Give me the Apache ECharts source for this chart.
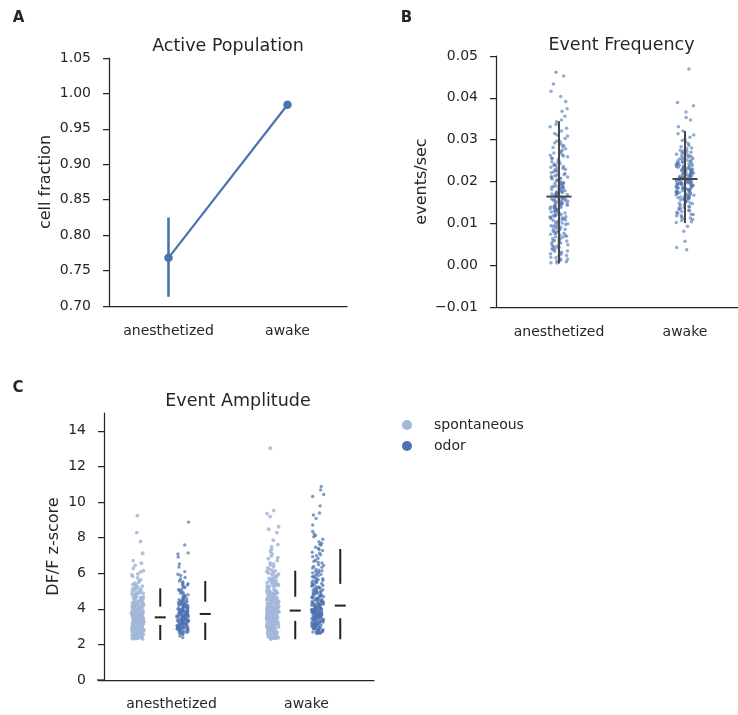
<!DOCTYPE html>
<html>
<head>
<meta charset="utf-8">
<script src="https://cdn.jsdelivr.net/npm/echarts@6/dist/echarts.min.js"></script>
<style>
  html, body { margin: 0; padding: 0; background: #ffffff; }
  #chart { width: 738px; height: 715px; }
</style>
</head>
<body>
<div id="chart"></div>
<script>
// ---- data -------------------------------------------------------------
const groups = ['anesthetized', 'awake'];
const hues = ['spontaneous', 'odor'];

// A: fraction of active cells (mean with interval)
const popMean = [0.768, 0.984];
const popLow  = [0.713, 0.981];
const popHigh = [0.825, 0.987];
const popTicks = [0.70, 0.75, 0.80, 0.85, 0.90, 0.95, 1.00, 1.05];

// B: per-cell event frequency (events/sec)
const freqAnesth = [
  0.0163,0.0211,0.0087,0.0142,0.0275,0.0034,0.0198,0.0121,0.0059,0.0236,0.0176,0.0012,0.0309,0.0148,0.0093,0.0187,0.0224,0.0067,0.0131,0.0256,
  0.0019,0.0172,0.0105,0.0289,0.0158,0.0041,0.0203,0.0117,0.0078,0.0241,0.0139,0.0184,0.0026,0.0327,0.0166,0.0098,0.0215,0.0052,0.0127,0.0269,
  0.0153,0.0008,0.0192,0.0111,0.0071,0.0231,0.0145,0.0178,0.0046,0.0297,0.0134,0.0207,0.0084,0.0161,0.0249,0.0023,0.0119,0.0189,0.0062,0.0218,
  0.0102,0.0343,0.0156,0.0037,0.0195,0.0128,0.0089,0.0263,0.0171,0.0014,0.0138,0.0228,0.0074,0.0182,0.0113,0.0283,0.0049,0.0149,0.0201,0.0096,
  0.0245,0.0167,0.0029,0.0124,0.0315,0.0057,0.0186,0.0143,0.0212,0.0081,0.0159,0.0005,0.0272,0.0108,0.0194,0.0065,0.0234,0.0136,0.0177,0.0043,
  0.0292,0.0151,0.0115,0.0209,0.0091,0.0169,0.0255,0.0018,0.0132,0.0221,0.0069,0.0181,0.0336,0.0104,0.0147,0.0054,0.0239,0.0164,0.0083,0.0197,
  0.0125,0.0031,0.0278,0.0157,0.0099,0.0216,0.0141,0.0061,0.0174,0.0303,0.0118,0.0010,0.0188,0.0226,0.0076,0.0152,0.0133,0.0264,0.0047,0.0206,
  0.0109,0.0173,0.0086,0.0247,0.0144,0.0022,0.0191,0.0321,0.0129,0.0064,0.0179,0.0232,0.0101,0.0155,0.0039,0.0286,0.0137,0.0213,0.0094,0.0168,
  0.0053,0.0259,0.0122,0.0199,0.0015,0.0146,0.0238,0.0079,0.0183,0.0112,0.0268,0.0161,0.0027,0.0204,0.0331,0.0135,0.0072,0.0219,0.0154,0.0097,
  0.0243,0.0044,0.0175,0.0116,0.0281,0.0189,0.0058,0.0140,0.0229,0.0006,0.0127,0.0196,0.0085,0.0252,0.0163,0.0033,0.0107,0.0311,0.0149,0.0068,
  0.0185,0.0223,0.0120,0.0092,0.0170,0.0261,0.0040,0.0138,0.0208,0.0295,0.0157,0.0075,0.0114,0.0347,
  0.0356,0.0368,0.0374,0.0391,0.0403,0.0416,0.0433,0.0452,0.0461
];
const freqAwake = [
  0.0206,0.0183,0.0231,0.0154,0.0262,0.0197,0.0219,0.0128,0.0243,0.0176,0.0291,0.0212,0.0165,0.0224,0.0139,0.0254,0.0201,0.0187,0.0275,0.0113,
  0.0228,0.0193,0.0161,0.0238,0.0208,0.0147,0.0269,0.0181,0.0215,0.0122,0.0249,0.0196,0.0172,0.0306,0.0221,0.0158,0.0233,0.0189,0.0204,0.0135,
  0.0259,0.0178,0.0217,0.0104,0.0241,0.0199,0.0166,0.0283,0.0211,0.0151,0.0226,0.0185,0.0246,0.0118,0.0203,0.0174,0.0267,0.0192,0.0143,0.0235,
  0.0209,0.0162,0.0298,0.0186,0.0222,0.0131,0.0253,0.0195,0.0169,0.0229,0.0107,0.0214,0.0179,0.0272,0.0198,0.0156,0.0244,0.0182,0.0218,0.0124,
  0.0261,0.0205,0.0168,0.0236,0.0191,0.0149,0.0314,0.0213,0.0175,0.0227,0.0137,0.0257,0.0202,0.0184,0.0239,0.0115,0.0224,0.0171,0.0278,0.0194,
  0.0159,0.0247,0.0207,0.0188,0.0232,0.0126,0.0264,0.0197,0.0163,0.0219,0.0141,0.0286,0.0210,0.0177,0.0251,0.0109,0.0234,0.0190,0.0167,0.0225,
  0.0153,0.0270,0.0200,0.0182,0.0242,0.0133,0.0321,0.0216,0.0173,0.0230,0.0119,0.0255,0.0206,0.0160,0.0237,0.0145,0.0280,0.0193,0.0220,0.0102,
  0.0248,0.0185,0.0212,0.0170,0.0295,0.0228,0.0157,0.0202,0.0265,0.0138,0.0240,0.0196,0.0180,0.0223,0.0121,0.0258,0.0209,0.0164,0.0311,0.0187,
  0.0214,0.0176,0.0250,0.0199,0.0148,0.0232,0.0189,0.0273,0.0205,0.0130,0.0226,0.0183,0.0244,0.0161,0.0302,0.0208,0.0172,0.0237,0.0195,0.0112,
  0.0093,0.0081,0.0057,0.0042,0.0037,0.0331,0.0347,0.0353,0.0366,0.0381,0.0389,0.0469
];
const freqMean = [0.0164, 0.0206];
const freqLow  = [0.0004, 0.0101];
const freqHigh = [0.0344, 0.0321];
const freqTicks = [-0.01, 0.00, 0.01, 0.02, 0.03, 0.04, 0.05];

// C: event amplitude (DF/F z-score), spontaneous vs odor-evoked
const ampAnSpont = [
  2.34,2.41,2.52,2.37,2.58,2.45,2.31,2.49,2.56,2.39,2.43,2.54,2.33,2.47,2.59,2.36,2.51,2.42,2.38,2.55,2.44,2.32,2.57,2.48,2.35,2.53,2.40,2.46,2.50,2.58,
  2.63,2.78,2.91,3.04,2.69,2.85,2.97,2.72,3.08,2.66,2.81,2.94,2.75,3.01,2.61,2.88,2.99,2.70,2.83,3.06,2.67,2.92,2.77,3.03,2.64,2.86,2.95,2.73,3.09,2.80,
  2.68,2.90,3.02,2.76,2.62,2.87,2.98,2.71,3.05,2.84,2.65,2.93,2.79,3.07,2.74,2.89,2.96,2.82,3.00,2.60,
  3.12,3.27,3.41,3.18,3.35,3.48,3.22,3.14,3.39,3.31,3.45,3.16,3.25,3.43,3.20,3.37,3.11,3.29,3.47,3.23,3.34,3.15,3.42,3.28,3.19,3.46,3.33,3.13,3.38,3.24,
  3.49,3.17,3.32,3.40,3.21,3.26,3.44,3.10,3.36,3.30,3.48,3.18,3.27,3.41,3.15,3.35,3.22,3.44,3.12,3.29,3.39,3.25,3.46,3.19,3.33,3.14,3.42,3.28,3.21,3.37,
  3.16,3.31,3.47,3.24,3.40,3.13,3.34,3.45,3.20,3.26,
  3.52,3.67,3.84,3.58,3.96,3.71,3.55,3.89,4.03,3.63,3.78,3.92,3.54,3.81,4.07,3.69,3.86,3.60,3.99,3.74,3.57,3.93,3.65,4.01,3.80,3.53,3.88,3.72,3.61,4.05,
  3.76,3.95,3.59,3.83,3.68,4.09,3.56,3.90,3.73,3.64,3.98,3.79,3.51,3.87,3.70,4.02,3.62,3.85,3.75,3.94,3.57,4.08,3.66,3.82,3.91,3.54,3.77,4.04,3.63,3.97,
  3.71,3.86,3.59,4.00,3.68,3.83,3.55,3.92,3.74,4.06,3.61,3.89,
  4.13,4.37,4.62,4.21,4.85,4.49,4.16,4.71,4.28,4.94,4.41,4.19,4.57,4.33,4.78,4.11,4.66,4.25,4.52,4.89,4.31,4.14,4.45,4.73,4.22,4.59,4.97,4.36,4.18,4.64,
  4.27,4.82,4.43,4.12,4.55,4.39,4.91,4.24,4.68,4.34,4.17,4.76,4.48,4.29,4.61,4.87,4.20,4.53,
  5.04,5.31,5.12,5.58,5.21,5.83,5.07,5.44,5.27,5.96,5.15,5.62,5.36,5.09,5.74,5.24,5.49,5.02,5.91,5.38,
  6.08,6.27,6.44,6.71,6.15,6.56,7.12,7.78,8.28,9.24
];
const ampAnOdor = [
  2.38,2.71,2.56,2.79,2.64,2.47,2.75,2.68,2.59,2.77,2.73,2.62,2.78,2.69,
  2.83,3.11,2.94,3.05,2.87,3.17,2.99,2.91,3.08,2.85,3.14,3.02,2.96,3.19,2.89,3.07,2.81,3.12,2.97,3.04,2.92,3.16,2.86,3.09,3.00,2.93,3.13,2.88,
  3.24,3.51,3.37,3.66,3.29,3.45,3.58,3.33,3.62,3.21,3.48,3.39,3.69,3.27,3.55,3.42,3.31,3.64,3.36,3.53,3.25,3.47,3.60,3.34,3.68,3.40,3.22,3.57,3.44,3.30,
  3.63,3.38,3.50,3.26,3.59,3.43,3.67,3.32,3.54,3.46,3.28,3.61,3.35,
  3.72,4.05,3.88,4.21,3.79,4.34,3.96,4.12,3.74,4.27,3.91,4.02,3.83,4.38,3.76,4.16,3.99,4.08,3.85,4.24,3.71,3.94,4.31,3.81,4.14,3.89,4.03,4.19,3.77,4.36,
  3.97,4.10,3.86,4.25,3.73,4.06,3.92,4.29,3.80,4.17,3.95,4.39,
  4.46,4.83,4.57,4.91,4.42,4.68,4.75,4.51,4.97,4.63,4.44,4.88,4.55,4.71,4.49,4.79,4.60,
  5.07,5.38,5.19,5.52,5.11,5.45,5.28,5.03,5.34,5.56,5.23,5.41,
  5.68,5.87,6.09,5.76,5.94,6.35,6.52,6.91,7.08,7.14,7.59,8.87
];
const ampAwSpont = [
  2.33,2.61,2.47,2.75,2.39,2.68,2.52,2.31,2.79,2.44,2.57,2.36,2.71,2.49,2.64,2.41,2.77,2.55,2.34,2.66,2.46,2.73,2.38,2.59,2.50,2.70,2.42,2.63,2.35,2.76,
  2.53,2.45,2.69,2.32,2.58,2.74,2.40,2.65,
  2.84,3.12,2.97,3.26,2.89,3.05,3.18,2.82,3.29,2.93,3.09,2.86,3.21,3.01,2.91,3.15,2.81,3.24,2.99,3.07,2.87,3.19,2.95,3.27,2.83,3.03,3.13,2.90,3.22,2.98,
  3.10,2.85,3.28,2.94,3.16,3.00,2.88,3.23,2.96,3.06,2.92,3.14,
  3.34,3.72,3.51,3.88,3.41,3.63,3.37,3.79,3.56,3.45,3.84,3.31,3.67,3.53,3.76,3.39,3.60,3.86,3.48,3.70,3.35,3.58,3.81,3.43,3.65,3.52,3.89,3.38,3.74,3.47,
  3.62,3.33,3.83,3.55,3.69,3.42,3.77,3.50,3.87,3.36,3.64,3.46,3.80,3.57,3.32,3.73,3.49,3.61,3.85,3.40,3.68,3.54,3.78,3.44,3.30,3.66,3.82,3.59,3.37,3.75,
  3.48,3.63,3.87,3.41,3.71,3.53,3.35,3.79,3.57,3.44,3.84,3.60,3.39,3.67,3.51,3.76,3.33,3.62,3.86,3.46,
  3.94,4.37,4.12,4.58,4.01,4.26,4.65,3.98,4.43,4.17,4.52,3.92,4.31,4.08,4.69,4.21,3.96,4.48,4.14,4.39,4.03,4.61,4.24,3.91,4.55,4.10,4.33,4.67,4.05,4.28,
  4.46,3.99,4.19,4.57,4.35,4.02,4.63,4.15,4.41,3.93,4.29,4.53,4.07,4.38,4.22,4.68,3.97,4.44,4.11,4.59,4.25,4.04,4.36,4.50,3.95,4.18,4.62,4.32,4.09,4.47,
  4.23,4.66,4.00,4.40,4.13,4.56,4.27,3.90,4.45,4.20,4.60,4.06,4.34,4.51,4.16,4.64,3.98,4.42,4.30,4.54,
  4.72,5.14,4.89,5.37,4.78,5.02,5.26,4.95,5.48,4.81,5.09,5.31,4.74,5.18,4.92,5.43,4.85,5.06,5.22,4.99,5.35,4.76,5.11,5.46,4.87,5.28,4.93,5.04,5.40,4.80,
  5.16,4.97,5.33,4.71,5.20,4.90,5.07,5.44,4.83,5.25,
  5.53,5.87,5.66,6.04,5.58,5.79,6.13,5.62,5.95,5.71,6.18,5.55,5.84,6.01,5.68,5.91,5.76,6.09,5.60,5.98,
  6.24,6.58,6.37,6.82,6.45,6.96,6.29,6.71,6.52,6.88,7.08,7.34,7.61,7.85,7.22,7.49,8.28,8.61,8.47,9.18,9.35,9.52,13.02
];
const ampAwOdor = [
  2.63,2.88,2.71,2.95,2.67,2.82,2.76,2.99,2.69,2.91,2.74,2.85,2.61,2.97,2.79,2.66,2.93,2.72,2.87,2.64,2.81,2.98,2.70,2.84,2.77,
  3.04,3.31,3.17,3.42,3.09,3.26,3.38,3.12,3.45,3.21,3.02,3.35,3.15,3.29,3.07,3.41,3.19,3.33,3.11,3.46,3.24,3.06,3.37,3.14,3.28,3.01,3.43,3.22,3.34,3.16,
  3.52,3.87,3.64,4.05,3.71,3.95,3.58,4.12,3.79,3.49,3.91,3.67,4.01,3.83,3.56,4.16,3.74,3.98,3.61,3.89,3.50,4.08,3.77,3.93,3.66,4.14,3.85,3.54,4.03,3.72,
  3.97,3.60,3.81,4.10,3.69,3.48,3.92,3.76,4.17,3.63,3.88,3.55,4.00,3.80,3.68,3.94,4.07,3.59,3.84,3.73,4.13,3.51,3.90,3.65,3.99,
  4.22,4.78,4.45,5.13,4.31,4.94,4.58,5.27,4.26,4.67,5.04,4.39,4.85,4.19,5.21,4.53,4.72,5.36,4.34,4.99,4.61,4.28,5.09,4.81,4.47,5.31,4.24,4.69,4.91,4.37,
  5.17,4.56,4.76,4.21,5.02,4.42,4.88,5.24,4.64,4.30,4.97,4.51,5.38,4.74,4.33,5.07,4.59,4.83,4.25,5.19,4.48,4.70,5.33,4.41,4.95,
  5.46,5.92,5.63,6.21,5.51,6.38,5.78,6.05,5.57,6.44,5.85,5.69,6.13,5.42,6.29,5.97,5.74,6.47,5.60,6.02,5.88,5.48,6.33,5.66,6.17,5.81,5.54,6.09,
  6.58,7.12,6.84,7.39,6.67,7.03,6.93,7.27,6.73,7.46,6.61,7.18,6.99,7.33,
  7.58,7.91,8.12,7.68,8.34,7.77,8.05,7.62,8.21,
  8.71,9.08,9.27,9.38,9.78,10.31,10.42,10.68,10.87
];
// summary marks per group: [spontaneous, odor]
const ampLowAn  = [2.25, 2.25], ampLowAw  = [2.29, 2.29];
const ampQ1An   = [3.09, 3.22], ampQ1Aw   = [3.32, 3.47];
const ampMedAn  = [3.52, 3.71], ampMedAw  = [3.90, 4.18];
const ampQ3An   = [4.12, 4.40], ampQ3Aw   = [4.68, 5.40];
const ampHighAn = [5.15, 5.56], ampHighAw = [6.14, 7.36];
const ampTicks = [0, 2, 4, 6, 8, 10, 12, 14];

// ---- styling ----------------------------------------------------------
const INK = '#262626';
const FONT = 'DejaVu Sans';
const BLUE = '#4c72b0';
const LIGHT = '#a3b7d9';

function fmt(v, digits) {
  if (!digits) return String(v);
  const s = Math.abs(v).toFixed(digits);
  return (v < -1e-9 ? '\u2212' : '') + s;
}

function valueAxis(grid, min, max, ticks, name, gap, digits) {
  return {
    type: 'value', gridIndex: grid, min: min, max: max,
    name: name, nameLocation: 'middle', nameGap: gap,
    nameTextStyle: { fontFamily: FONT, fontSize: 16, color: INK },
    axisLine: { show: true, lineStyle: { color: INK, width: 1.25 } },
    axisTick: { show: true, length: 6, customValues: ticks, lineStyle: { color: INK, width: 1.25 } },
    axisLabel: { customValues: ticks, margin: 18, fontFamily: FONT, fontSize: 14, color: INK,
                 formatter: v => fmt(v, digits) },
    splitLine: { show: false }
  };
}

function groupAxis(grid, extra) {
  return Object.assign({
    type: 'category', gridIndex: grid, data: groups, boundaryGap: true,
    axisLine: { onZero: false, lineStyle: { color: INK, width: 1.25 } },
    axisTick: { alignWithLabel: true, length: 6, lineStyle: { color: INK, width: 1.25 } },
    axisLabel: { margin: 18, fontFamily: FONT, fontSize: 14, color: INK },
    splitLine: { show: false }
  }, extra || {});
}

// slots on the hidden C axis: 6 per group, strip then its summary mark
const SLOTS = ['', '', '', '', '', '', '', '', '', '', '', ''];
const stripSlot = (g, h) => 1 + 6 * g + 2 * h;

// ---- renderers --------------------------------------------------------
function popErrRender(params, api) {
  const p0 = api.coord([api.value(0), api.value(1)]);
  const p1 = api.coord([api.value(0), api.value(2)]);
  return { type: 'line', shape: { x1: p0[0], y1: p0[1], x2: p1[0], y2: p1[1] },
           style: { stroke: BLUE, lineWidth: 2.6 } };
}

function freqErrRender(params, api) {
  const lo = api.coord([api.value(0), api.value(1)]);
  const hi = api.coord([api.value(0), api.value(2)]);
  const m = api.coord([api.value(0), api.value(3)]);
  const st = { stroke: '#474747', lineWidth: 2 };
  return { type: 'group', children: [
    { type: 'line', shape: { x1: lo[0], y1: lo[1], x2: hi[0], y2: hi[1] }, style: st },
    { type: 'line', shape: { x1: m[0] - 12.5, y1: m[1], x2: m[0] + 12.5, y2: m[1] }, style: st }
  ]};
}

function ampBoxRender(params, api) {
  const x = api.value(0);
  const y = i => api.coord([x, api.value(i)])[1];
  const cx = api.coord([x, 0])[0];
  const st = { stroke: '#222222', lineWidth: 2 };
  return { type: 'group', children: [
    { type: 'line', shape: { x1: cx, y1: y(1), x2: cx, y2: y(2) }, style: st },
    { type: 'line', shape: { x1: cx, y1: y(4), x2: cx, y2: y(5) }, style: st },
    { type: 'line', shape: { x1: cx - 5.5, y1: y(3), x2: cx + 5.5, y2: y(3) }, style: st }
  ]};
}

// ---- series -----------------------------------------------------------
const series = [];

// A
series.push({
  type: 'custom', xAxisIndex: 0, yAxisIndex: 0, z: 2,
  data: groups.map((g, i) => [i, popLow[i], popHigh[i]]),
  encode: { x: 0, y: [1, 2] }, renderItem: popErrRender, silent: true
});
series.push({
  type: 'line', name: 'population', xAxisIndex: 0, yAxisIndex: 0, z: 3,
  data: popMean, symbol: 'circle', symbolSize: 8.5,
  itemStyle: { color: BLUE }, lineStyle: { color: BLUE, width: 2.2 }, silent: true
});

// B
[freqAnesth, freqAwake].forEach((arr, g) => {
  series.push({
    type: 'scatter', name: 'frequency ' + groups[g], xAxisIndex: 1, yAxisIndex: 1, z: 2,
    data: arr.map(v => [g, v]), symbolSize: 3.5,
    itemStyle: { color: BLUE, opacity: 0.6 }, silent: true
  });
});
series.push({
  type: 'custom', xAxisIndex: 1, yAxisIndex: 1, z: 5,
  data: groups.map((g, i) => [i, freqLow[i], freqHigh[i], freqMean[i]]),
  encode: { x: 0, y: [1, 2, 3] }, renderItem: freqErrRender, silent: true
});

// C
const ampStrips = [[ampAnSpont, ampAnOdor], [ampAwSpont, ampAwOdor]];
const ampStats = [
  [ampLowAn, ampQ1An, ampMedAn, ampQ3An, ampHighAn],
  [ampLowAw, ampQ1Aw, ampMedAw, ampQ3Aw, ampHighAw]
];
const boxData = [];
ampStrips.forEach((pair, g) => {
  pair.forEach((arr, h) => {
    const s = stripSlot(g, h);
    series.push({
      type: 'scatter', name: hues[h], xAxisIndex: 3, yAxisIndex: 2, z: 2,
      data: arr.map(v => [s, v]), symbolSize: h === 0 ? 3.8 : 3.4,
      itemStyle: h === 0 ? { color: LIGHT, opacity: 0.85 } : { color: BLUE, opacity: 0.72 },
      silent: true
    });
    const st = ampStats[g];
    boxData.push([s + 1, st[0][h], st[1][h], st[2][h], st[3][h], st[4][h]]);
  });
});
series.push({
  type: 'custom', xAxisIndex: 3, yAxisIndex: 2, z: 5,
  data: boxData, encode: { x: 0, y: [1, 2, 3, 4, 5] }, renderItem: ampBoxRender, silent: true
});

// ---- chart ------------------------------------------------------------
const chart = echarts.init(document.getElementById('chart'), null, { renderer: 'canvas' });

const textEl = (x, y, text, size, weight) => ({
  type: 'text', x: x, y: y, silent: true,
  style: { text: text, fill: INK, font: (weight || 'normal') + ' ' + size + 'px "DejaVu Sans"',
           align: 'center', verticalAlign: 'middle', textAlign: 'center', textVerticalAlign: 'middle' }
});

chart.setOption({
  animation: false,
  backgroundColor: '#ffffff',
  textStyle: { fontFamily: FONT },
  grid: [
    { left: 109, top: 58, width: 238, height: 248, outerBoundsMode: 'none' },
    { left: 496, top: 56, width: 252, height: 251, outerBoundsMode: 'none' },
    { left: 104, top: 413, width: 270, height: 267, outerBoundsMode: 'none' }
  ],
  xAxis: [
    groupAxis(0),
    groupAxis(1, { jitter: 18, jitterOverlap: true }),
    groupAxis(2, { axisLabel: { margin: 17, fontFamily: FONT, fontSize: 14, color: INK } }),
    { type: 'category', gridIndex: 2, data: SLOTS, show: false, position: 'bottom',
      boundaryGap: true, jitter: 12, jitterOverlap: true }
  ],
  yAxis: [
    valueAxis(0, 0.70, 1.05, popTicks, 'cell fraction', 55, 2),
    valueAxis(1, -0.01, 0.05, freqTicks, 'events/sec', 66, 2),
    valueAxis(2, 0, 15, ampTicks, 'DF/F z-score', 42, 0)
  ],
  legend: {
    orient: 'vertical', left: 402, top: 417, padding: 0, itemGap: 5,
    itemWidth: 44, itemHeight: 10, icon: 'circle',
    data: [
      { name: 'spontaneous', itemStyle: { color: LIGHT, opacity: 1 } },
      { name: 'odor', itemStyle: { color: BLUE, opacity: 1 } }
    ],
    textStyle: { fontFamily: FONT, fontSize: 14, color: INK, lineHeight: 16 },
    selectedMode: false
  },
  graphic: [
    textEl(18.5, 18, 'A', 15, 'bold'),
    textEl(406.5, 18, 'B', 15, 'bold'),
    textEl(18, 388, 'C', 15, 'bold'),
    textEl(228, 46, 'Active Population', 17.5),
    textEl(621.5, 45, 'Event Frequency', 17.5),
    textEl(238, 401, 'Event Amplitude', 17.5),
    { type: 'line', silent: true, shape: { x1: 97, y1: 680, x2: 104, y2: 680 },
      style: { stroke: INK, lineWidth: 1.25 } }
  ],
  series: series
});
</script>
</body>
</html>
